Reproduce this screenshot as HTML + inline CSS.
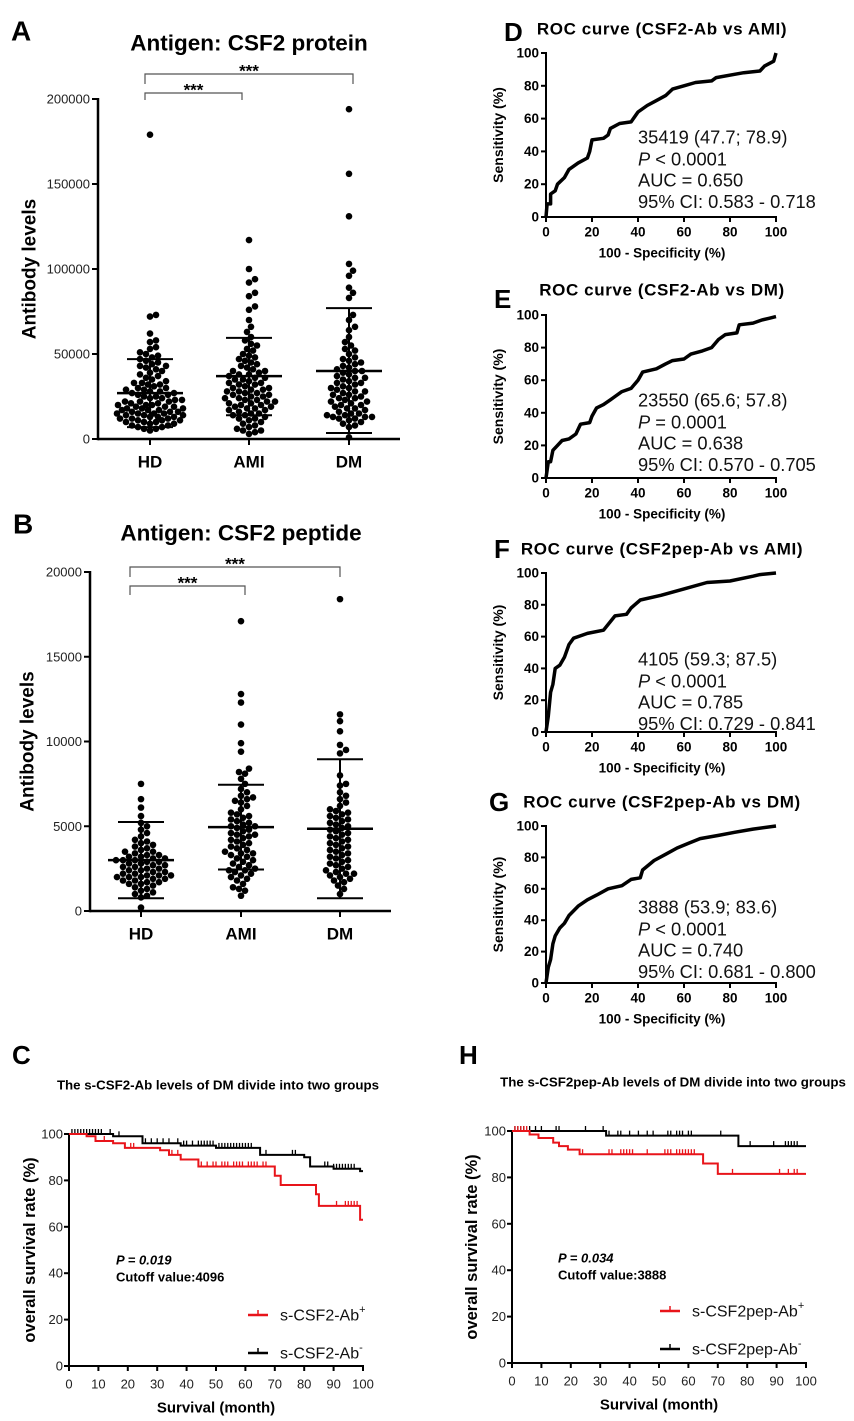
<!DOCTYPE html>
<html><head><meta charset="utf-8">
<style>
html,body{margin:0;padding:0;background:#fff;}
svg{display:block;font-family:"Liberation Sans",Arial,sans-serif;}
</style></head>
<body>
<svg id="fig" width="854" height="1421" viewBox="0 0 854 1421" xmlns="http://www.w3.org/2000/svg"></svg>
<script>
// ---------- DATA ----------
const scatterCats = ['HD','AMI','DM'];
const aTicks = [0,50000,100000,150000,200000];
const aHD = [179,73,72,62,58,57,54,53,51,50,49,48,47,46,45,44,43,43,42,41,40,39,38,37,36,35,34,33,33,32,32,31,30,30,29,29,28,28,27,27,26,26,25,25,24,24,23,23,22,22,22,21,21,20,20,20,19,19,19,18,18,18,17,17,17,16,16,16,15,15,15,15,14,14,14,13,13,13,12,12,12,11,11,11,10,10,10,9,9,8,8,7,7,6,6,5];
const aAMI = [117,100,94,92,86,84,78,76,70,66,63,60,58,56,55,53,52,50,49,48,47,46,45,44,43,42,41,40,40,39,38,38,37,36,36,35,35,34,33,33,32,32,31,30,30,29,29,28,28,27,27,26,26,25,25,24,24,23,23,22,22,21,21,20,20,19,19,18,18,17,17,16,15,15,14,14,13,12,12,11,10,9,8,7,6,5,5,4,3];
const aDM = [194,156,131,103,99,96,89,86,83,73,70,66,64,60,57,55,53,52,50,48,47,46,45,44,43,42,41,40,40,39,38,37,36,36,35,34,33,33,32,31,30,30,29,28,28,27,26,26,25,24,24,23,22,22,21,20,20,19,18,18,17,16,15,15,14,14,13,13,13,12,12,11,10,9,8,7,1];
const aMean = [27000,37000,40000];
const aSdHi = [47000,59500,77000];
const aSdLo = [7000,14000,3500];
const bTicks = [0,5000,10000,15000,20000];
const bHD = [75,66,61,56,52,50,48,46,44,42,41,40,39,38,37,36,35,35,34,33,33,32,32,31,31,30,30,30,29,29,28,28,27,27,26,26,25,25,24,24,23,23,22,22,21,21,21,20,20,20,19,19,18,18,17,17,16,16,15,14,13,12,11,10,9,8,2];
const bAMI = [171,128,123,110,99,94,84,82,81,78,75,72,70,68,67,66,65,64,62,60,58,57,56,55,54,53,52,51,50,50,49,48,47,46,45,45,44,43,42,41,40,39,38,37,36,35,34,34,33,32,31,30,29,28,27,26,25,24,24,23,22,21,20,19,18,16,14,13,12,9];
const bDM = [184,116,112,106,98,95,93,80,75,74,70,68,66,64,62,60,59,58,57,56,55,54,53,52,51,50,49,48,47,46,45,44,43,42,41,40,39,38,37,36,35,34,33,32,31,30,29,28,27,26,25,24,23,22,22,21,20,19,18,17,15,13,10];
const bMean = [3000,4950,4850];
const bSdHi = [5250,7450,8950];
const bSdLo = [750,2450,750];

const rocTicks = [0,20,40,60,80,100];
const dFpr = [0,0.5,2,2,4,5,8,10,14,18,19,20,25,27,28,32,37,40,44,48,52,55,60,65,72,74,82,86,93,95,99,100];
const dTpr = [0,8,8,14,16,20,24,29,33,36,40,47,48,50,54,57,58,64,68,71,74,78,80,82,83,85,87,88,89,92,95,100];
const eFpr = [0,1,2,3,5,7,10,13,15,19,20,22,25,28,30,33,37,40,42,48,52,55,60,63,68,72,75,78,83,84,90,94,97,100];
const eTpr = [0,10,10,17,20,23,24,27,33,34,38,43,45,48,50,53,55,60,65,67,70,72,73,76,78,80,85,88,89,94,95,97,98,99];
const fFpr = [0,1,2,3,4,6,8,10,12,18,25,30,35,37,41,50,60,70,80,90,93,100];
const fTpr = [0,10,25,30,40,42,47,55,59,62,64,73,74,78,83,86,90,94,95,98,99,100];
const gFpr = [0,1,2,3,4,6,8,10,14,18,22,27,33,37,41,42,47,52,57,62,67,75,82,90,100];
const gTpr = [0,10,15,25,30,35,38,43,49,53,56,60,62,66,67,72,78,82,86,89,92,94,96,98,100];

const kmTicksX = [0,10,20,30,40,50,60,70,80,90,100];
const kmTicksY = [0,20,40,60,80,100];
const cBlackT = [15,25,38,50,65,80,82,90,99];
const cBlackS = [99,96,95,94,91,90,86,85,84];
const cRedT = [6,9,15,19,31,34,38,44,70,72,84,85,99];
const cRedS = [99,97,96,94,93,91,89,86,82,78,74,69,63];
const cBlackCens = [1,2,3,4,5,6,7,8,9,10,11,14,17,26,28,30,32,34,37,39,40,42,44,45,46,47,48,49,51,52,53,54,55,56,57,58,59,60,61,62,67,76,77,87,88,90,91,92,93,94,95,96,97];
const cRedCens = [9,12,21,22,35,37,45,47,49,50,52,53,54,56,57,58,59,61,62,63,64,66,67,91,94,95,96,97,98];
const hBlackT = [32,77];
const hBlackS = [98,93.5];
const hRedT = [6,9,14,16,19,23,65,70];
const hRedS = [98.5,97,95,93.5,92,90,86,81.5];
const hBlackCens = [1,2,3,4,6,8,10,15,16,25,31,33,36,37,40,43,46,48,53,54,56,57,58,60,61,71,81,89,93,94,95,96,97];
const hRedCens = [1,2,3,4,5,24,33,34,37,38,39,40,41,46,52,53,54,56,57,58,59,60,61,62,75,91,94,96,97];

// ---------- HELPERS ----------
const NS='http://www.w3.org/2000/svg';
const svg=document.getElementById('fig');
function mk(tag,name,attrs,parent){
  const el=document.createElementNS(NS,tag);
  
  
  for(const k in attrs) el.setAttribute(k,attrs[k]);
  (parent||svg).appendChild(el);
  return el;
}
function txt(x,y,s,name,attrs,parent){
  const a=Object.assign({x:x,y:y,'dominant-baseline':'central'},attrs||{});
  const el=mk('text',name,a,parent);
  el.textContent=s;
  return el;
}
function ln(x1,y1,x2,y2,name,w,c,parent){
  return mk('line',name,{x1:x1,y1:y1,x2:x2,y2:y2,stroke:c||'#000','stroke-width':w||1},parent);
}

// ---------- SCATTER PANELS ----------
function scatter(p){
  const g=mk('g',p.id,{});
  const ys=v=>p.y0-(v/p.max)*(p.y0-p.yTop);
  ln(p.x0,p.y0,p.x1,p.y0,'x-axis',2.5,'#000',g);
  ln(p.x0,p.yTop-1,p.x0,p.y0+1.2,'y-axis',2.5,'#000',g);
  p.ticks.forEach(t=>{
    ln(p.x0-6,ys(t),p.x0,ys(t),'y-tick',2,'#000',g);
    txt(p.x0-8,ys(t),String(t),'y-tick-label',{'text-anchor':'end','font-size':13,'fill':'#222'},g);
  });
  txt(p.ylx,(p.yTop+p.y0)/2,'Antibody levels','y-axis-title',{'text-anchor':'middle','font-size':19,'font-weight':'bold',transform:`rotate(-90 ${p.ylx} ${(p.yTop+p.y0)/2})`},g);
  txt(p.titleX,p.titleY,p.title,'chart-title',{'text-anchor':'middle','font-size':22.5,'font-weight':'bold'},g);
  txt(p.letterX,p.letterY,p.letter,'panel-letter',{'font-size':28,'font-weight':'bold'},g);
  scatterCats.forEach((c,i)=>{
    const cx=p.cx[i];
    ln(cx,p.y0,cx,p.y0+6,'x-tick',2,'#000',g);
    txt(cx,p.y0+23,c,'x-tick-label',{'text-anchor':'middle','font-size':17,'font-weight':'bold'},g);
    const vals=p.data[i].map(v=>v*p.unit).slice().sort((a,b)=>a-b);
    const placed=[]; const r=3.3, d=6.2, lim=33;
    vals.forEach(v=>{
      const y=ys(v); let off=null; let best=0, bestD=-1;
      for(let k=0;k<=2*lim;k++){
        const cand=(k===0)?0:((k%2?1:-1)*Math.ceil(k/2));
        let md=1e9; placed.forEach(q=>{const dd=(q[0]-cand)**2+(q[1]-y)**2; if(dd<md)md=dd;});
        if(md>=d*d){off=cand;break;}
        if(md>bestD){bestD=md;best=cand;}
      }
      if(off===null) off=best;
      placed.push([off,y]);
      mk('circle','data-point-'+c.toLowerCase(),{cx:cx+off,cy:y,r:r,fill:'#000'},g);
    });
    ln(cx-33,ys(p.mean[i]),cx+33,ys(p.mean[i]),'mean-line',2.5,'#000',g);
    ln(cx,ys(p.sdLo[i]),cx,ys(p.sdHi[i]),'sd-bar',2,'#000',g);
    ln(cx-23,ys(p.sdHi[i]),cx+23,ys(p.sdHi[i]),'sd-cap-upper',2,'#000',g);
    ln(cx-23,ys(p.sdLo[i]),cx+23,ys(p.sdLo[i]),'sd-cap-lower',2,'#000',g);
  });
  p.brackets.forEach(b=>{
    mk('polyline','significance-bracket',{points:`${b[0]},${b[3]} ${b[0]},${b[2]} ${b[1]},${b[2]} ${b[1]},${b[3]}`,fill:'none',stroke:'#555','stroke-width':1.2},g);
    txt((b[0]+b[1])/2,b[2]-3,'***','significance-stars',{'text-anchor':'middle','font-size':17,'font-weight':'bold'},g);
  });
}
scatter({id:'panel-a',letter:'A',letterX:11,letterY:31,title:'Antigen: CSF2 protein',titleX:249,titleY:43,
  x0:98,x1:400,y0:439,yTop:99,max:200000,unit:1000,ticks:aTicks,cx:[150,249,349],ylx:30,
  data:[aHD,aAMI,aDM],mean:aMean,sdHi:aSdHi,sdLo:aSdLo,
  brackets:[[145,353,74,84],[145,242,93,100]]});
scatter({id:'panel-b',letter:'B',letterX:13,letterY:524,title:'Antigen: CSF2 peptide',titleX:241,titleY:533,
  x0:90,x1:391,y0:911,yTop:572,max:20000,unit:100,ticks:bTicks,cx:[141,241,340],ylx:28,
  data:[bHD,bAMI,bDM],mean:bMean,sdHi:bSdHi,sdLo:bSdLo,
  brackets:[[130,340,567,577],[130,245,586,595]]});

// ---------- ROC PANELS ----------
function roc(p){
  const g=mk('g',p.id,{});
  const x0=546,x1=776;
  const xs=v=>x0+v/100*(x1-x0);
  const ys=v=>p.y0-v/100*(p.y0-p.yTop);
  txt(p.letterX,p.letterY,p.letter,'panel-letter',{'font-size':26,'font-weight':'bold'},g);
  txt(662,p.titleY,p.title,'chart-title',{'text-anchor':'middle','font-size':17,'font-weight':'bold','letter-spacing':0.6},g);
  ln(x0,p.y0,x1+1,p.y0,'x-axis',2,'#000',g);
  ln(x0,p.yTop-1,x0,p.y0+1,'y-axis',2,'#000',g);
  rocTicks.forEach(t=>{
    ln(x0-5,ys(t),x0,ys(t),'y-tick',2,'#000',g);
    txt(x0-7,ys(t),String(t),'y-tick-label',{'text-anchor':'end','font-size':13.5,'font-weight':'bold'},g);
    ln(xs(t),p.y0,xs(t),p.y0+5,'x-tick',2,'#000',g);
    txt(xs(t),p.y0+15,String(t),'x-tick-label',{'text-anchor':'middle','font-size':13.5,'font-weight':'bold'},g);
  });
  txt(662,p.y0+36,'100 - Specificity (%)','x-axis-title',{'text-anchor':'middle','font-size':13.5,'font-weight':'bold'},g);
  const cy=(p.yTop+p.y0)/2;
  txt(498,cy,'Sensitivity (%)','y-axis-title',{'text-anchor':'middle','font-size':14,'font-weight':'bold',transform:`rotate(-90 498 ${cy})`},g);
  let d='';
  p.fpr.forEach((f,i)=>{d+=(i?'L':'M')+xs(f).toFixed(1)+','+ys(p.tpr[i]).toFixed(1);});
  mk('path','roc-curve',{d:d,fill:'none',stroke:'#000','stroke-width':3.5,'stroke-linejoin':'round'},g);
  p.stats.forEach((s,i)=>{
    const t=txt(638,p.statY+i*21.5,'','roc-stat',{'font-size':18.3,'fill':'#111'},g);
    if(s.startsWith('P ')){
      const a=document.createElementNS(NS,'tspan');a.setAttribute('font-style','italic');a.textContent='P';t.appendChild(a);
      const b=document.createElementNS(NS,'tspan');b.textContent=s.slice(1);t.appendChild(b);
    } else t.textContent=s;
  });
}
roc({id:'panel-d',letter:'D',letterX:504,letterY:32,title:'ROC curve (CSF2-Ab vs AMI)',titleY:29,yTop:53,y0:217,fpr:dFpr,tpr:dTpr,statY:137,
  stats:['35419 (47.7; 78.9)','P < 0.0001','AUC = 0.650','95% CI: 0.583 - 0.718']});
roc({id:'panel-e',letter:'E',letterX:494,letterY:299,title:'ROC curve (CSF2-Ab vs DM)',titleY:290,yTop:315,y0:478,fpr:eFpr,tpr:eTpr,statY:400,
  stats:['23550 (65.6; 57.8)','P = 0.0001','AUC = 0.638','95% CI: 0.570 - 0.705']});
roc({id:'panel-f',letter:'F',letterX:494,letterY:549,title:'ROC curve (CSF2pep-Ab vs AMI)',titleY:549,yTop:573,y0:732,fpr:fFpr,tpr:fTpr,statY:659,
  stats:['4105 (59.3; 87.5)','P < 0.0001','AUC = 0.785','95% CI: 0.729 - 0.841']});
roc({id:'panel-g',letter:'G',letterX:489,letterY:802,title:'ROC curve (CSF2pep-Ab vs DM)',titleY:802,yTop:826,y0:983,fpr:gFpr,tpr:gTpr,statY:907,
  stats:['3888 (53.9; 83.6)','P < 0.0001','AUC = 0.740','95% CI: 0.681 - 0.800']});

// ---------- KM PANELS ----------
function km(p){
  const g=mk('g',p.id,{});
  const xs=v=>p.x0+v/100*(p.x1-p.x0);
  const ys=v=>p.y0-v/100*(p.y0-p.yTop);
  txt(p.letterX,1055,p.letter,'panel-letter',{'font-size':26,'font-weight':'bold'},g);
  txt(p.titleX,p.titleY,p.title,'chart-title',{'text-anchor':'middle','font-size':13.3,'font-weight':'bold'},g);
  ln(p.x0,p.y0,p.x1+1,p.y0,'x-axis',2,'#000',g);
  ln(p.x0,p.yTop-1,p.x0,p.y0+1,'y-axis',2,'#000',g);
  kmTicksY.forEach(t=>{
    ln(p.x0-5,ys(t),p.x0,ys(t),'y-tick',2,'#000',g);
    txt(p.x0-6,ys(t),String(t),'y-tick-label',{'text-anchor':'end','font-size':13,'fill':'#222'},g);
  });
  kmTicksX.forEach(t=>{
    ln(xs(t),p.y0,xs(t),p.y0+5,'x-tick',2,'#000',g);
    txt(xs(t),p.y0+18,String(t),'x-tick-label',{'text-anchor':'middle','font-size':13,'fill':'#222'},g);
  });
  txt((p.x0+p.x1)/2,p.y0+42,'Survival (month)','x-axis-title',{'text-anchor':'middle','font-size':15,'font-weight':'bold'},g);
  const cy=(p.yTop+p.y0)/2;
  txt(p.ylx,cy,'overall survival rate (%)','y-axis-title',{'text-anchor':'middle','font-size':16.5,'font-weight':'bold',transform:`rotate(-90 ${p.ylx} ${cy})`},g);
  function curve(T,S,cens,color,name){
    let d='M'+xs(0)+','+ys(100);
    T.forEach((t,i)=>{d+='H'+xs(t).toFixed(1)+'V'+ys(S[i]).toFixed(1);});
    d+='H'+xs(100);
    mk('path',name,{d:d,fill:'none',stroke:color,'stroke-width':2},g);
    cens.forEach(c=>{
      let s=100; T.forEach((t,i)=>{if(c>=t)s=S[i];});
      ln(xs(c),ys(s),xs(c),ys(s)-5,name+'-censor',1.3,color,g);
    });
  }
  curve(p.bT,p.bS,p.bC,'#000','survival-curve-negative');
  curve(p.rT,p.rS,p.rC,'#e8141a','survival-curve-positive');
  txt(p.px,p.py,'P = '+p.pval,'p-value',{'font-size':13,'font-weight':'bold','font-style':'italic'},g);
  txt(p.px,p.py+17,'Cutoff value:'+p.cut,'cutoff-value',{'font-size':13,'font-weight':'bold'},g);
  [[p.ly1,'#e8141a','+','legend-positive'],[p.ly2,'#000','-','legend-negative']].forEach(L=>{
    ln(p.lx,L[0],p.lx+20,L[0],L[3]+'-line',2.5,L[1],g);
    ln(p.lx+10,L[0],p.lx+10,L[0]-5,L[3]+'-tick',1.5,L[1],g);
    const t=txt(p.lx+32,L[0]+1,p.lab,L[3]+'-label',{'font-size':16,'fill':'#111'},g);
    const s=document.createElementNS(NS,'tspan');s.setAttribute('baseline-shift','super');s.setAttribute('font-size','11');s.textContent=L[2];t.appendChild(s);
  });
}
km({id:'panel-c',letter:'C',letterX:12,title:'The s-CSF2-Ab levels of DM divide into two groups',titleX:218,titleY:1085,
  x0:69,x1:363,yTop:1134,y0:1366,ylx:30,bT:cBlackT,bS:cBlackS,bC:cBlackCens,rT:cRedT,rS:cRedS,rC:cRedCens,
  px:116,py:1260,pval:'0.019',cut:'4096',lx:248,ly1:1315,ly2:1353,lab:'s-CSF2-Ab'});
km({id:'panel-h',letter:'H',letterX:459,title:'The s-CSF2pep-Ab levels of DM divide into two groups',titleX:673,titleY:1082,
  x0:512,x1:806,yTop:1131,y0:1363,ylx:472,bT:hBlackT,bS:hBlackS,bC:hBlackCens,rT:hRedT,rS:hRedS,rC:hRedCens,
  px:558,py:1258,pval:'0.034',cut:'3888',lx:660,ly1:1311,ly2:1349,lab:'s-CSF2pep-Ab'});
</script>
</body></html>
